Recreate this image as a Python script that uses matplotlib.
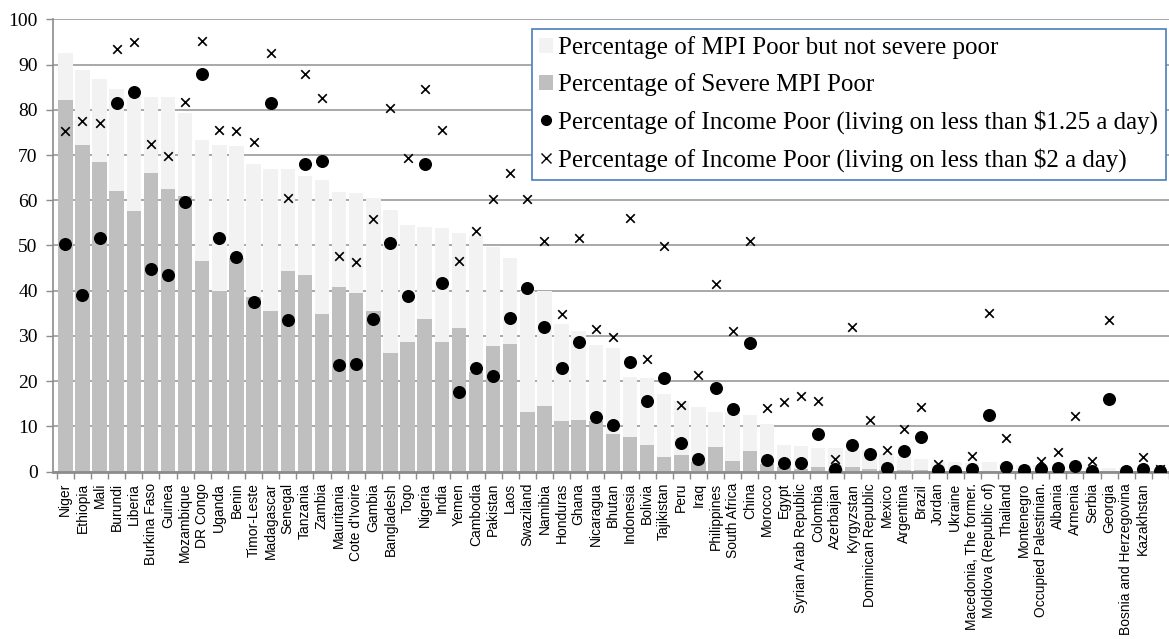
import matplotlib.pyplot as plt
import numpy as np
from matplotlib.patches import Patch
from matplotlib.lines import Line2D

# Data
countries = [
    "Niger", "Ethiopia", "Mali", "Burundi", "Liberia", "Burkina Faso", "Guinea",
    "Mozambique", "DR Congo", "Uganda", "Benin", "Timor-Leste", "Madagascar",
    "Senegal", "Tanzania", "Zambia", "Mauritania", "Cote d'Ivoire", "Gambia",
    "Bangladesh", "Togo", "Nigeria", "India", "Yemen", "Cambodia", "Pakistan",
    "Laos", "Swaziland", "Namibia", "Honduras", "Ghana", "Nicaragua", "Bhutan",
    "Indonesia", "Bolivia", "Tajikistan", "Peru", "Iraq", "Philippines",
    "South Africa", "China", "Morocco", "Egypt", "Syrian Arab Republic",
    "Colombia", "Azerbaijan", "Kyrgyzstan", "Dominican Republic", "Mexico",
    "Argentina", "Brazil", "Jordan", "Ukraine", "Macedonia, The former.",
    "Moldova (Republic of)", "Thailand", "Montenegro", "Occupied Palestinian.",
    "Albania", "Armenia", "Serbia", "Georgia", "Bosnia and Herzegovina",
    "Kazakhstan", "",
]

mpi_total = [
    92.6, 88.8, 86.7, 84.5, 82.8, 82.8, 82.8, 79.3, 73.4, 72.3, 71.9, 68.1, 67.0,
    67.0, 65.3, 64.4, 61.8, 61.5, 60.4, 57.9, 54.5, 54.1, 53.8, 52.8, 52.0, 49.6,
    47.2, 40.0, 39.9, 32.6, 31.1, 27.9, 27.3, 21.0, 20.7, 17.2, 15.7, 14.3, 13.3,
    13.1, 12.5, 10.6, 5.9, 5.7, 5.3, 5.3, 4.9, 4.8, 3.9, 3.2, 2.8, 2.1, 2.2, 1.9,
    2.2, 1.6, 1.5, 1.4, 0.9, 0.6, 0.8, 0.8, 0.8, 0.6, 0.6,
]

mpi_severe = [
    82.1, 72.3, 68.4, 62.1, 57.6, 66.1, 62.5, 60.9, 46.5, 39.9, 47.2, 38.7, 35.6,
    44.3, 43.5, 34.9, 40.8, 39.5, 35.6, 26.2, 28.6, 33.8, 28.6, 31.8, 22.1, 27.7,
    28.3, 13.1, 14.6, 11.2, 11.5, 11.2, 8.4, 7.7, 5.9, 3.2, 3.8, 2.2, 5.5,
    2.4, 4.6, 1.6, 1.0, 0.5, 1.1, 0.6, 1.1, 0.7, 0.3, 0.4, 0.3, 0.1, 0.1, 0.2,
    0.2, 0.2, 0.1, 0.1, 0.1, 0.1, 0.1, 0.1, 0.1, 0.1, 0.1,
]

income_125 = [
    50.3, 39.0, 51.6, 81.5, 83.9, 44.8, 43.5, 59.6, 87.9, 51.7, 47.4, 37.6, 81.4,
    33.6, 68.1, 68.6, 23.5, 23.8, 33.7, 50.6, 38.8, 68.1, 41.7, 17.6, 22.9, 21.2,
    34.0, 40.7, 32.0, 23.0, 28.6, 12.0, 10.3, 24.3, 15.7, 20.8, 6.3, 2.8, 18.5,
    13.8, 28.4, 2.6, 1.9, 1.9, 8.3, 0.5, 6.0, 3.9, 0.75, 4.6, 7.7, 0.4, 0.2, 0.5,
    12.5, 1.1, 0.4, 0.5, 0.75, 1.3, 0.2, 16.1, 0.2, 0.6, 0.2,
]

income_2 = [
    75.3, 77.6, 77.1, 93.5, 95.0, 72.5, 69.7, 81.8, 95.2, 75.6, 75.3, 72.8, 92.6,
    60.4, 87.9, 82.6, 47.6, 46.3, 55.9, 80.3, 69.4, 84.5, 75.6, 46.5, 53.3, 60.2,
    66.1, 60.3, 51.1, 34.9, 51.7, 31.6, 29.7, 56.1, 24.9, 49.8, 14.8, 21.3, 41.5,
    31.2, 51.1, 14.0, 15.4, 16.8, 15.7, 2.7, 32.0, 11.4, 4.8, 9.4, 14.4, 1.7, 0.2,
    3.5, 35.1, 7.5, 0.4, 2.4, 4.3, 12.3, 2.4, 33.6, 0.2, 3.2, 0.5,
]

x = np.arange(len(countries))
not_severe = np.array(mpi_total) - np.array(mpi_severe)

fig = plt.figure(figsize=(11.69, 6.39), dpi=100)
ax = fig.add_axes([53 / 1169, 1 - 471.7 / 639, 1 - 53 / 1169, 452.4 / 639])

ax.bar(x, mpi_severe, width=0.84, color="#bfbfbf", linewidth=0, zorder=2)
ax.bar(x, not_severe, bottom=mpi_severe, width=0.84, color="#f2f2f2", linewidth=0, zorder=2)
ax.scatter(x, income_125, s=70, color="black", zorder=4)
ax.scatter(x, income_2, s=38, marker="x", color="black", linewidths=1.2, zorder=4)

ax.set_ylim(0, 100)
ax.set_xlim(-0.72, 63.8)
ax.set_yticks(range(0, 101, 10))
ax.yaxis.grid(True, color="#9a9a9a", linewidth=1.2, zorder=0)
ax.set_axisbelow(True)

# category labels + boundary ticks
ax.set_xticks(x)
ax.set_xticklabels(countries, rotation=90, fontsize=10, family="Liberation Sans", va="top")
ax.set_xticks(np.arange(-0.5, len(countries), 1), minor=True)
ax.tick_params(axis="x", which="major", length=0, pad=8)
ax.tick_params(axis="x", which="minor", length=5, color="#8c8c8c", width=1)
ax.tick_params(axis="y", length=5, color="#8c8c8c", width=1, pad=6)
for lab in ax.get_yticklabels():
    lab.set_family("Liberation Serif")
    lab.set_fontsize(14)

for s in ["top", "right"]:
    ax.spines[s].set_visible(False)
ax.spines["left"].set_color("#8c8c8c")
ax.spines["left"].set_linewidth(1.2)
ax.spines["bottom"].set_color("#8c8c8c")
ax.spines["bottom"].set_linewidth(2)

handles = [
    Patch(facecolor="#f2f2f2", edgecolor="none"),
    Patch(facecolor="#bfbfbf", edgecolor="none"),
    Line2D([], [], marker="o", color="black", linestyle="none", markersize=7),
    Line2D([], [], marker="x", color="black", linestyle="none", markersize=7),
]
labels = [
    "Percentage of MPI Poor but not severe poor",
    "Percentage of Severe MPI Poor",
    "Percentage of Income Poor (living on less than $1.25 a day)",
    "Percentage of Income Poor (living on less than $2 a day)",
]
leg = ax.legend(handles, labels, loc="upper left", bbox_to_anchor=(0.429, 0.979),
                borderaxespad=0, prop={"family": "Liberation Serif", "size": 18},
                handlelength=0.55, handleheight=0.6, handletextpad=0.2,
                labelspacing=0.56, borderpad=0.3, fancybox=False, framealpha=1)
leg.get_frame().set_edgecolor("#4a7ebb")
leg.get_frame().set_linewidth(1.2)

fig.savefig("out.png", dpi=100)
